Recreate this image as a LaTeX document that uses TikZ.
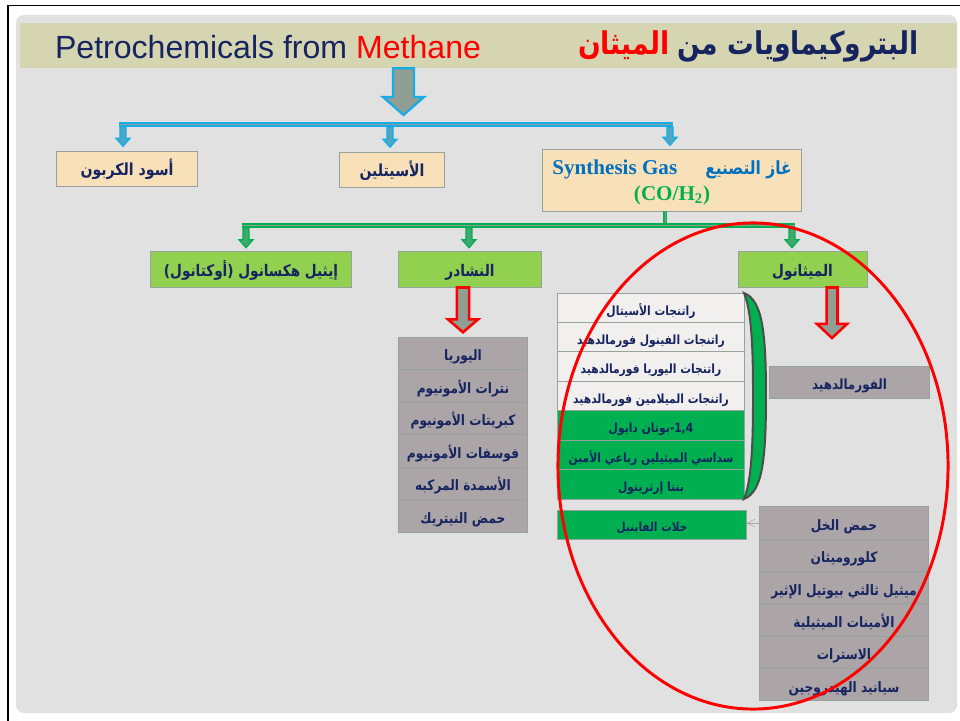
\documentclass[tikz,border=0pt]{standalone}
\usepackage{fontspec}
\setmainfont{Liberation Serif}
\setsansfont{Liberation Sans}
\newfontfamily\arabicfont[Script=Arabic]{DejaVu Sans}
\TeXXeTstate=1
\usetikzlibrary{arrows.meta, calc}
\usepackage{xcolor}
\definecolor{slidebg}{RGB}{225,225,225}
\definecolor{titlecolor}{RGB}{213,213,178}
\definecolor{navytext}{RGB}{22,36,96}
\definecolor{beigecolor}{RGB}{248,224,184}
\definecolor{limecolor}{RGB}{146,208,80}
\definecolor{greencolor}{RGB}{0,176,80}
\definecolor{whitecolor}{RGB}{242,240,238}
\definecolor{mauvecolor}{RGB}{172,165,168}
\definecolor{bordercolor}{RGB}{150,162,158}
\definecolor{cyancolor}{RGB}{22,172,232}
\definecolor{arrowcolor}{RGB}{145,158,148}
\definecolor{synblue}{RGB}{0,112,192}

\newcommand{\artext}[1]{\scalebox{0.85}[1]{\arabicfont\bfseries\beginR #1\endR}}
% block arrow: style, from, to, half shaft, half head, head length
\newcommand{\blockarrow}[6]{%
  \draw[#1] let \p1=(#2), \p2=(#3) in
    (\x1-#4,\y1) -- (\x1-#4,\y2+#6) -- (\x1-#5,\y2+#6) -- (\x1,\y2)
    -- (\x1+#5,\y2+#6) -- (\x1+#4,\y2+#6) -- (\x1+#4,\y1) -- cycle;}

\begin{document}
\begin{tikzpicture}[x=0.025cm, y=-0.025cm,
    box/.style={rectangle, draw=bordercolor, fill=#1, line width=0.7pt,
                inner sep=0pt, text=navytext, text height=1.1em, text depth=0.05em},
    rowone/.style={box=beigecolor, minimum height=0.875cm, font=\fontsize{11.8}{14}\selectfont},
    rowtwo/.style={box=limecolor, minimum height=0.9cm, font=\fontsize{11.4}{14}\selectfont},
    ammitem/.style={box=mauvecolor, minimum width=3.2cm, minimum height=0.8125cm,
                    font=\fontsize{10.2}{12}\selectfont},
    methitem/.style={box=#1, minimum width=4.65cm, minimum height=0.735cm,
                     font=\fontsize{9}{11}\selectfont},
    aceticitem/.style={box=mauvecolor, minimum width=4.2cm, minimum height=0.8075cm,
                       font=\fontsize{10.2}{12}\selectfont},
    cyanbar/.style={draw=cyancolor, double=arrowcolor, double distance=0.7pt, line width=1.4pt},
    greenbar/.style={draw=greencolor, double=arrowcolor, double distance=0.7pt, line width=1.4pt},
    cyanblock/.style={draw=cyancolor, fill=arrowcolor, line width=1.6pt},
    redblock/.style={draw=red, fill=arrowcolor, line width=1.8pt},
    smallcyan/.style={draw=cyancolor, fill=cyancolor!55!arrowcolor, line width=0.9pt},
    smallgreen/.style={draw=greencolor, fill=greencolor!55!arrowcolor, line width=0.9pt},
    connection/.style={-{Straight Barb[length=0.2cm, width=0.2cm]}, thin, draw=gray!70}
]
\useasboundingbox (0,0) rectangle (960,721);
\fill[white] (0,0) rectangle (960,721);

% Slide
\fill[slidebg, rounded corners=0.2cm] (16,15) rectangle (957,713);
\draw[line width=1.4pt] (8,721) -- (8,5.5) -- (960,5.5);
\node[fill=titlecolor, minimum width=23.425cm, minimum height=1.125cm, inner sep=0pt] (title) at (488.5,45.5) {};
\node[font=\sffamily\fontsize{22.8}{26}\selectfont, text=navytext] (titleen) at (268,47)
    {Petrochemicals from \textcolor{red}{Methane}};
\node[font=\fontsize{22.3}{26}\selectfont, text=navytext, text height=0.95em, text depth=0.05em]
    (titlear) at (748.5,48) {\textcolor{red}{\artext{الميثان}} \artext{البتروكيماويات من}};

% Row 1
\node[rowone, minimum width=3.5cm] (carbon) at (127,168.5) {\artext{أسود الكربون}};
\node[rowone, minimum width=2.6cm] (acetylene) at (392,169.5) {\artext{الأسيتلين}};
\node[rowone, minimum width=6.45cm, minimum height=1.525cm, align=center, text=synblue,
      text height={}, text depth=0pt, font=\fontsize{15}{18.5}\selectfont\bfseries] (syngas) at (672,180.5)
    {Synthesis Gas\hspace{20pt}{\fontsize{12.9}{14}\selectfont\artext{غاز التصنيع}}\\\textcolor{greencolor}{(CO/H\textsubscript{2})}};

% Row 2
\node[rowtwo, minimum width=5cm] (octanol) at (251,269) {\artext{إيثيل هكسانول (أوكتانول)}};
\node[rowtwo, minimum width=3.55cm] (ammonia) at (470,269) {\artext{النشادر}};
\node[rowtwo, minimum width=3.225cm] (methanol) at (802.5,269) {\artext{الميثانول}};

% Ammonia products
\foreach \t [count=\i] in {اليوريا, نترات الأمونيوم, كبريتات الأمونيوم, فوسفات الأمونيوم, الأسمدة المركبه, حمض النيتريك}
    \node[ammitem] (amm\i) at (463,{320.75+32.5*\i}) {\artext{\t}};

% Methanol products
\foreach \t/\c [count=\i] in {راتنجات الأسيتال/whitecolor, راتنجات الفينول فورمالدهيد/whitecolor,
    راتنجات اليوريا فورمالدهيد/whitecolor, راتنجات الميلامين فورمالدهيد/whitecolor,
    {\beginL 1,4\endL-بوتان دايول}/greencolor, سداسي الميثيلين رباعي الأمين/greencolor,
    بنتا إرثريتول/greencolor}
    \node[methitem=\c] (meth\i) at (651,{278.3+29.43*\i}) {\artext{\t}};
\draw[draw=gray!60!black, fill=greencolor, line width=1.4pt]
    (744,293) .. controls (762,300) and (766,330) .. (766,396)
    .. controls (766,462) and (762,492) .. (744,499)
    .. controls (752,480) and (753,440) .. (753,396)
    .. controls (753,352) and (752,312) .. (744,293) -- cycle;
\node[box=mauvecolor, minimum width=3.975cm, minimum height=0.8cm,
      font=\fontsize{10}{12}\selectfont] (formald) at (849.5,382) {\artext{الفورمالدهيد}};

% Acetic acid products
\foreach \t [count=\i] in {حمض الخل, كلوروميثان, ميثيل ثالثي بيوتيل الإثير, الأمينات الميثيلية, الاسترات, سيانيد الهيدروجين}
    \node[aceticitem] (acet\i) at (844,{490.8+32.33*\i}) {\artext{\t}};
\node[box=greencolor, minimum width=4.7cm, minimum height=0.725cm,
      font=\fontsize{8.8}{11}\selectfont] (vinyl) at (652,524.5) {\artext{خلات الفاينيل}};

% Connections
\coordinate (maintip) at (403.5,115);
\blockarrow{cyanblock}{title.south -| maintip}{maintip}{7.5pt}{14.6pt}{12.8pt}
\draw[cyanbar] (119,124.5) coordinate (cyanL) -- (673,124.5) coordinate (cyanR);
\foreach \bx/\xpos in {carbon/123, acetylene/390, syngas/670}{
    \coordinate (in\bx) at (\xpos,127);
    \blockarrow{smallcyan}{in\bx}{[yshift=3pt]\bx.north}{2.1pt}{5pt}{5.7pt}
}
\coordinate (greenjoin) at (665,225.5);
\draw[greenbar] (syngas.south -| greenjoin) -- (greenjoin);
\draw[greenbar] (242,225.5) coordinate (greenL) -- (795,225.5) coordinate (greenR);
\foreach \bx/\xpos in {octanol/246, ammonia/469, methanol/792}{
    \coordinate (in\bx) at (\xpos,228);
    \blockarrow{smallgreen}{in\bx}{[yshift=2pt]\bx.north}{2.1pt}{5pt}{5.7pt}
}
\blockarrow{redblock}{ammonia.south -| amm1.north}{[yshift=3pt]amm1.north}{4.3pt}{10.7pt}{9.2pt}
\coordinate (methtip) at (832,338);
\blockarrow{redblock}{methanol.south -| methtip}{methtip}{3.9pt}{10.7pt}{10pt}
\draw[connection] (acet1.west) -- (acet1.west -| vinyl.east);

% Methanol ring
\draw[red, line width=2.1pt] (753,466) ellipse [x radius=4.875cm, y radius=6.075cm];

\end{tikzpicture}
\end{document}
